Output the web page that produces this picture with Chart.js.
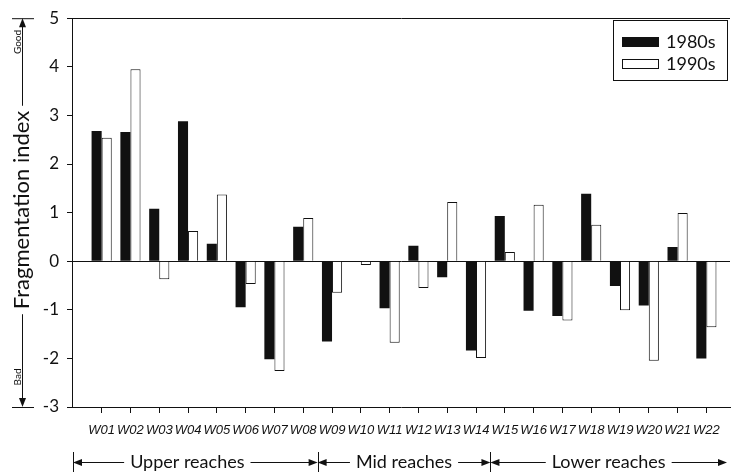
<!DOCTYPE html>
<html>
<head>
<meta charset="utf-8">
<script src="https://cdn.jsdelivr.net/npm/chart.js@4.4.1/dist/chart.umd.min.js"></script>
<style>
  body { margin: 0; background: #fff; }
  canvas { display: block; }
</style>
</head>
<body>
<canvas id="fragmentation-chart" width="731" height="473"></canvas>
<script>
var labels = ['W01', 'W02', 'W03', 'W04', 'W05', 'W06', 'W07', 'W08', 'W09', 'W10', 'W11',
    'W12', 'W13', 'W14', 'W15', 'W16', 'W17', 'W18', 'W19', 'W20', 'W21', 'W22'];
var values1980s = [2.68, 2.66, 1.08, 2.88, 0.36, -0.95, -2.02, 0.71, -1.65, 0, -0.97,
    0.32, -0.33, -1.84, 0.93, -1.02, -1.13, 1.39, -0.51, -0.91, 0.29, -2.00];
var values1990s = [2.54, 3.95, -0.37, 0.62, 1.37, -0.47, -2.26, 0.89, -0.65, -0.08, -1.68,
    -0.55, 1.22, -1.99, 0.19, 1.16, -1.22, 0.75, -1.01, -2.05, 0.99, -1.36];
var yTicks = [-3, -2, -1, 0, 1, 2, 3, 4, 5];
var reachNames = ['Upper reaches', 'Mid reaches', 'Lower reaches'];
var reachBreaks = [8.5, 14.5];

var ink = '#111';
var textFont = 'Lato, "Open Sans", sans-serif';

function toPoints(values) {
    return values.map(function (v, i) { return {x: i + 1, y: v}; });
}

function arrowHead(ctx, x, y, dir) {
    // dir: 'left' | 'right' | 'up' | 'down'
    var len = 9, half = 3.5;
    ctx.beginPath();
    if (dir === 'left') { ctx.moveTo(x, y); ctx.lineTo(x + len, y - half); ctx.lineTo(x + len, y + half); }
    if (dir === 'right') { ctx.moveTo(x, y); ctx.lineTo(x - len, y - half); ctx.lineTo(x - len, y + half); }
    if (dir === 'up') { ctx.moveTo(x, y); ctx.lineTo(x - half, y + len); ctx.lineTo(x + half, y + len); }
    if (dir === 'down') { ctx.moveTo(x, y); ctx.lineTo(x - half, y - len); ctx.lineTo(x + half, y - len); }
    ctx.closePath();
    ctx.fill();
}

function line(ctx, x1, y1, x2, y2) {
    ctx.beginPath();
    ctx.moveTo(x1, y1);
    ctx.lineTo(x2, y2);
    ctx.stroke();
}

var decorations = {
    id: 'decorations',
    afterDraw: function (chart) {
        var ctx = chart.ctx;
        var area = chart.chartArea;
        var xs = chart.scales.x, ys = chart.scales.y;
        var topY = ys.getPixelForValue(5), botY = ys.getPixelForValue(-3);

        ctx.save();
        ctx.strokeStyle = ink;
        ctx.fillStyle = ink;
        ctx.lineWidth = 1;

        // y axis title with Good / Bad arrows
        var title = 'Fragmentation index';
        var cx = 22, cy = 210;
        ctx.font = '22px ' + textFont;
        var tw = ctx.measureText(title).width;
        ctx.save();
        ctx.translate(cx, cy);
        ctx.rotate(-Math.PI / 2);
        ctx.textAlign = 'center';
        ctx.textBaseline = 'middle';
        ctx.fillText(title, 0, 0);
        ctx.restore();

        line(ctx, cx + 0.5, cy - tw / 2 - 5, cx + 0.5, topY + 4);
        arrowHead(ctx, cx + 0.5, topY, 'up');
        line(ctx, 12, topY + 0.5, 34, topY + 0.5);
        line(ctx, cx + 0.5, cy + tw / 2 + 5, cx + 0.5, botY - 4);
        arrowHead(ctx, cx + 0.5, botY, 'down');
        line(ctx, 12, botY + 0.5, 34, botY + 0.5);

        ctx.font = '10px ' + textFont;
        ctx.textAlign = 'center';
        ctx.textBaseline = 'alphabetic';
        [['Good', 42], ['Bad', 377]].forEach(function (s) {
            ctx.save();
            ctx.translate(21, s[1]);
            ctx.rotate(-Math.PI / 2);
            ctx.fillText(s[0], 0, 0);
            ctx.restore();
        });

        // reach labels under the x axis
        var ry = 462;
        var bounds = [area.left + 1].concat(reachBreaks.map(function (b) { return xs.getPixelForValue(b); }), [area.right - 3]);
        ctx.font = '18px ' + textFont;
        ctx.textBaseline = 'middle';
        ctx.textAlign = 'center';
        for (var i = 0; i < reachNames.length; i++) {
            var a = bounds[i], b = bounds[i + 1];
            var c = (a + b) / 2 - (i === 0 ? 8 : 0);
            var w = ctx.measureText(reachNames[i]).width;
            ctx.fillText(reachNames[i], c, ry);
            line(ctx, c - w / 2 - 6, ry + 0.5, a + 4, ry + 0.5);
            arrowHead(ctx, a, ry + 0.5, 'left');
            line(ctx, c + w / 2 + 6, ry + 0.5, b - 4, ry + 0.5);
            arrowHead(ctx, b, ry + 0.5, 'right');
        }
        for (var j = 0; j < bounds.length - 1; j++) {
            line(ctx, Math.round(bounds[j]) + 0.5, ry - 10, Math.round(bounds[j]) + 0.5, ry + 10);
        }

        // legend box
        var lx = 613, ly = 20, lw = 114, lh = 60;
        ctx.strokeRect(lx + 0.5, ly + 0.5, lw, lh);
        ctx.font = '18px ' + textFont;
        ctx.textAlign = 'left';
        chart.data.datasets.forEach(function (ds, k) {
            var sy = 37 + k * 22;
            ctx.fillStyle = ds.backgroundColor;
            ctx.fillRect(622, sy, 37, 10);
            if (ds.borderWidth) {
                ctx.strokeRect(622.5, sy + 0.5, 36, 9);
            }
            ctx.fillStyle = ink;
            ctx.fillText(ds.label, 666, sy + 5);
        });

        ctx.restore();
    }
};

var config = {
    type: 'bar',
    data: {
        datasets: [
            {
                label: '1980s',
                data: toPoints(values1980s),
                backgroundColor: ink,
                borderWidth: 0,
            },
            {
                label: '1990s',
                data: toPoints(values1990s),
                backgroundColor: '#fff',
                borderColor: ink,
                borderWidth: 1,
            },
        ]
    },
    options: {
        responsive: false,
        animation: false,
        layout: {
            padding: {top: 15, right: 1, left: 0, bottom: 0}
        },
        datasets: {
            bar: {
                categoryPercentage: 0.7,
                barPercentage: 1.0,
            }
        },
        plugins: {
            legend: {display: false},
            tooltip: {enabled: false},
        },
        scales: {
            x: {
                type: 'linear',
                offset: false,
                min: -0.03,
                max: 22.82,
                afterBuildTicks: function (scale) {
                    scale.ticks = labels.map(function (l, i) { return {value: i + 1}; });
                },
                afterFit: function (scale) {
                    scale.height = 66;
                },
                grid: {
                    offset: false,
                    drawOnChartArea: false,
                    color: ink,
                    tickColor: ink,
                    tickLength: 6,
                },
                border: {color: ink, width: 1},
                ticks: {
                    autoSkip: false,
                    maxRotation: 0,
                    padding: 10,
                    color: ink,
                    font: {family: '"Liberation Sans", Arial, sans-serif', size: 13, style: 'italic'},
                    callback: function (v) { return labels[v - 1] || ''; }
                }
            },
            y: {
                min: yTicks[0],
                max: yTicks[yTicks.length - 1],
                afterBuildTicks: function (scale) {
                    scale.ticks = yTicks.map(function (v) { return {value: v}; });
                },
                afterFit: function (scale) {
                    scale.width = 72;
                },
                grid: {
                    color: function (c) {
                        return c.tick && (c.tick.value === 0 || c.tick.value === 5) ? ink : 'rgba(0,0,0,0)';
                    },
                    tickColor: ink,
                    tickLength: 5,
                },
                border: {color: ink, width: 1},
                ticks: {
                    padding: 8,
                    color: ink,
                    font: {family: textFont, size: 17},
                }
            }
        }
    },
    plugins: [decorations]
};

var ctx = document.getElementById('fragmentation-chart').getContext('2d');
window.fragmentationChart = new Chart(ctx, config);
</script>
</body>
</html>
